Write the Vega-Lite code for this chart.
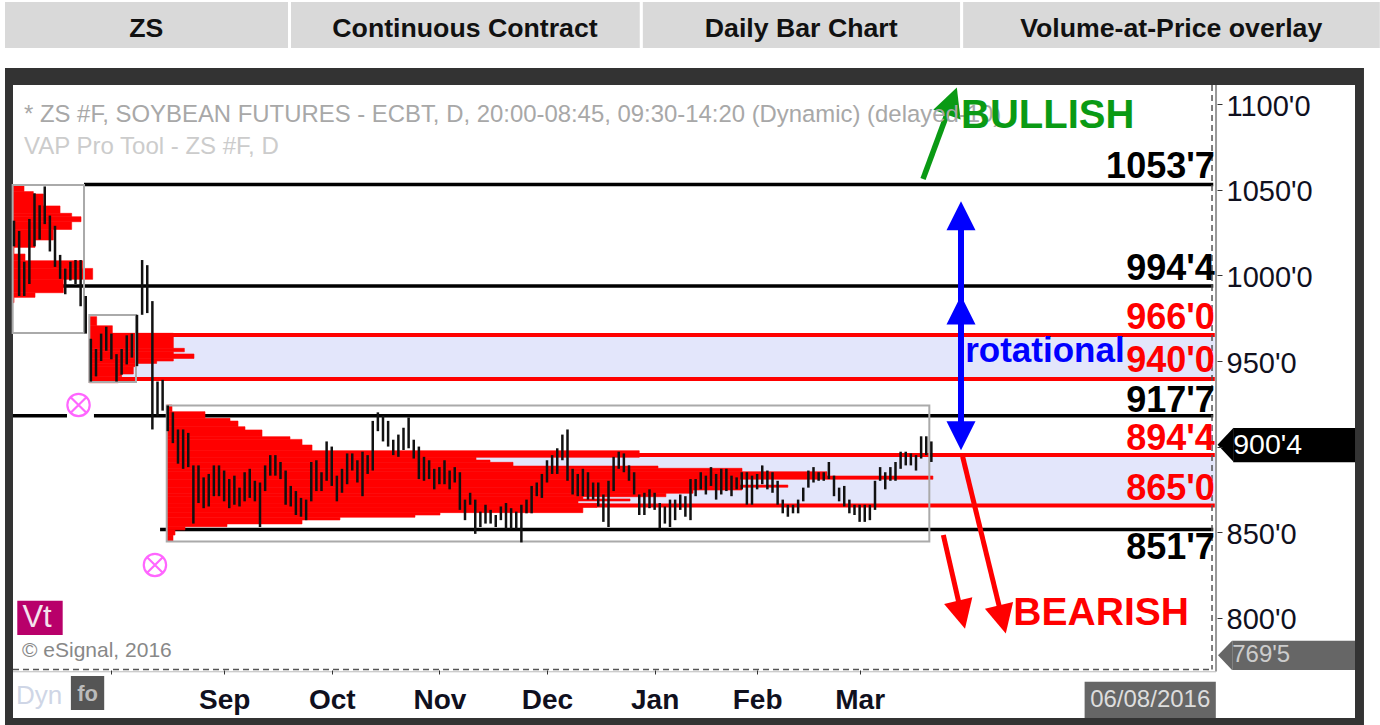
{
"$schema":"https://vega.github.io/schema/vega-lite/v6.json",
"width":1380,"height":725,"padding":0,"autosize":{"type":"none"},"background":"#ffffff",
"config":{"view":{"stroke":null},"text":{"font":"Liberation Sans"}},
"datasets":{
"bars":[
{"bar":0,"high":1032,"low":1017},{"bar":1,"high":1026,"low":988},{"bar":2,"high":1008,"low":988},{"bar":3,"high":1033,"low":995},{"bar":4,"high":1048,"low":1017},{"bar":5,"high":1041,"low":1021},{"bar":6,"high":1052,"low":1030},{"bar":7,"high":1035,"low":1014},{"bar":8,"high":1029,"low":1005},{"bar":9,"high":1012,"low":998},
{"bar":10,"high":1004,"low":989},{"bar":11,"high":1008,"low":997},{"bar":12,"high":1009,"low":995},{"bar":13,"high":1009,"low":982},{"bar":14,"high":988,"low":966},{"bar":15,"high":963,"low":938},{"bar":16,"high":957,"low":941},{"bar":17,"high":966,"low":950},{"bar":18,"high":970,"low":956},{"bar":19,"high":966,"low":951},
{"bar":20,"high":954,"low":938},{"bar":21,"high":957,"low":942},{"bar":22,"high":965,"low":948},{"bar":23,"high":966,"low":952},{"bar":24,"high":977,"low":947},{"bar":25,"high":1009,"low":977},{"bar":26,"high":1006,"low":978},{"bar":27,"high":985,"low":910},{"bar":28,"high":938,"low":918},{"bar":29,"high":939,"low":921},
{"bar":30,"high":924,"low":909},{"bar":31,"high":920,"low":902},{"bar":32,"high":910,"low":890},{"bar":33,"high":910,"low":887},{"bar":34,"high":908,"low":888},{"bar":35,"high":889,"low":855},{"bar":36,"high":889,"low":867},{"bar":37,"high":882,"low":864},{"bar":38,"high":884,"low":865},{"bar":39,"high":889,"low":871},
{"bar":40,"high":889,"low":871},{"bar":41,"high":886,"low":868},{"bar":42,"high":881,"low":864},{"bar":43,"high":883,"low":866},{"bar":44,"high":876,"low":865},{"bar":45,"high":885,"low":868},{"bar":46,"high":887,"low":870},{"bar":47,"high":880,"low":868},{"bar":48,"high":879,"low":853},{"bar":49,"high":889,"low":874},
{"bar":50,"high":895,"low":883},{"bar":51,"high":895,"low":883},{"bar":52,"high":891,"low":881},{"bar":53,"high":886,"low":866},{"bar":54,"high":877,"low":865},{"bar":55,"high":874,"low":860},{"bar":56,"high":870,"low":859},{"bar":57,"high":869,"low":857},{"bar":58,"high":891,"low":868},{"bar":59,"high":892,"low":874},
{"bar":60,"high":885,"low":874},{"bar":61,"high":903,"low":880},{"bar":62,"high":900,"low":877},{"bar":63,"high":883,"low":868},{"bar":64,"high":887,"low":873},{"bar":65,"high":896,"low":878},{"bar":66,"high":896,"low":886},{"bar":67,"high":892,"low":879},{"bar":68,"high":897,"low":871},{"bar":69,"high":895,"low":884},
{"bar":70,"high":915,"low":886},{"bar":71,"high":920,"low":909},{"bar":72,"high":918,"low":903},{"bar":73,"high":915,"low":900},{"bar":74,"high":904,"low":895},{"bar":75,"high":907,"low":894},{"bar":76,"high":911,"low":898},{"bar":77,"high":917,"low":899},{"bar":78,"high":904,"low":893},{"bar":79,"high":900,"low":881},
{"bar":80,"high":894,"low":880},{"bar":81,"high":892,"low":881},{"bar":82,"high":887,"low":875},{"bar":83,"high":888,"low":878},{"bar":84,"high":892,"low":878},{"bar":85,"high":886,"low":875},{"bar":86,"high":888,"low":879},{"bar":87,"high":885,"low":863},{"bar":88,"high":869,"low":857},{"bar":89,"high":873,"low":866},
{"bar":90,"high":869,"low":849},{"bar":91,"high":862,"low":853},{"bar":92,"high":866,"low":855},{"bar":93,"high":863,"low":855},{"bar":94,"high":860,"low":853},{"bar":95,"high":865,"low":857},{"bar":96,"high":867,"low":852},{"bar":97,"high":864,"low":852},{"bar":98,"high":862,"low":852},{"bar":99,"high":866,"low":844},
{"bar":100,"high":869,"low":861},{"bar":101,"high":877,"low":861},{"bar":102,"high":879,"low":871},{"bar":103,"high":884,"low":870},{"bar":104,"high":892,"low":879},{"bar":105,"high":895,"low":884},{"bar":106,"high":899,"low":884},{"bar":107,"high":907,"low":892},{"bar":108,"high":910,"low":880},{"bar":109,"high":887,"low":872},
{"bar":110,"high":884,"low":871},{"bar":111,"high":887,"low":871},{"bar":112,"high":885,"low":869},{"bar":113,"high":879,"low":869},{"bar":114,"high":879,"low":865},{"bar":115,"high":872,"low":856},{"bar":116,"high":880,"low":853},{"bar":117,"high":894,"low":874},{"bar":118,"high":897,"low":887},{"bar":119,"high":896,"low":885},
{"bar":120,"high":889,"low":880},{"bar":121,"high":885,"low":872},{"bar":122,"high":872,"low":860},{"bar":123,"high":873,"low":860},{"bar":124,"high":875,"low":864},{"bar":125,"high":873,"low":863},{"bar":126,"high":867,"low":852},{"bar":127,"high":865,"low":855},{"bar":128,"high":869,"low":853},{"bar":129,"high":869,"low":857},
{"bar":130,"high":872,"low":863},{"bar":131,"high":871,"low":859},{"bar":132,"high":881,"low":857},{"bar":133,"high":881,"low":871},{"bar":134,"high":885,"low":875},{"bar":135,"high":883,"low":872},{"bar":136,"high":888,"low":877},{"bar":137,"high":884,"low":869},{"bar":138,"high":887,"low":872},{"bar":139,"high":887,"low":874},
{"bar":140,"high":883,"low":871},{"bar":141,"high":882,"low":875},{"bar":142,"high":885,"low":875},{"bar":143,"high":885,"low":866},{"bar":144,"high":883,"low":866},{"bar":145,"high":884,"low":875},{"bar":146,"high":889,"low":878},{"bar":147,"high":886,"low":875},{"bar":148,"high":885,"low":873},{"bar":149,"high":880,"low":866},
{"bar":150,"high":869,"low":861},{"bar":151,"high":866,"low":859},{"bar":152,"high":866,"low":861},{"bar":153,"high":869,"low":861},{"bar":154,"high":876,"low":868},{"bar":155,"high":886,"low":876},{"bar":156,"high":888,"low":879},{"bar":157,"high":885,"low":880},{"bar":158,"high":885,"low":880},{"bar":159,"high":891,"low":881},
{"bar":160,"high":883,"low":871},{"bar":161,"high":876,"low":868},{"bar":162,"high":877,"low":865},{"bar":163,"high":869,"low":861},{"bar":164,"high":866,"low":860},{"bar":165,"high":866,"low":856},{"bar":166,"high":866,"low":856},{"bar":167,"high":866,"low":857},{"bar":168,"high":880,"low":863},{"bar":169,"high":888,"low":880},
{"bar":170,"high":885,"low":875},{"bar":171,"high":888,"low":880},{"bar":172,"high":891,"low":880},{"bar":173,"high":897,"low":887},{"bar":174,"high":897,"low":889},{"bar":175,"high":896,"low":889},{"bar":176,"high":895,"low":886},{"bar":177,"high":906,"low":893},{"bar":178,"high":906,"low":895},{"bar":179,"high":903,"low":891}
],
"profile":[
{"bar":-0.26,"bar2":1.95,"high":1052.8,"low":1049},{"bar":-0.26,"bar2":3.77,"high":1049,"low":1047.6},{"bar":-0.26,"bar2":5.72,"high":1047.6,"low":1040.6},{"bar":-0.26,"bar2":8.98,"high":1040.6,"low":1036.3},{"bar":-0.26,"bar2":11.25,"high":1036.3,"low":1034.3},{"bar":-0.26,"bar2":13.07,"high":1034.3,"low":1031.4},{"bar":-0.26,"bar2":11.25,"high":1031.4,"low":1026.9},{"bar":-0.26,"bar2":7.67,"high":1026.9,"low":1020.7},{"bar":-0.26,"bar2":4.1,"high":1020.7,"low":1016.4},{"bar":-0.26,"bar2":0,"high":1016.4,"low":1012.5},{"bar":-0.26,"bar2":2.15,"high":1012.5,"low":1008.6},{"bar":-0.26,"bar2":13.4,"high":1008.6,"low":1004.1},{"bar":-0.26,"bar2":15.35,"high":1004.1,"low":997.7},{"bar":-0.26,"bar2":9.62,"high":997.7,"low":989.9},{"bar":-0.26,"bar2":4.1,"high":989.9,"low":987.2},{"bar":-0.26,"bar2":0,"high":987.2,"low":984.1},
{"bar":14.7,"bar2":16.13,"high":975.9,"low":970.6},{"bar":14.7,"bar2":19.19,"high":970.6,"low":966.2},{"bar":14.7,"bar2":31.09,"high":966.2,"low":957.4},{"bar":14.7,"bar2":33.24,"high":957.4,"low":955.4},{"bar":14.7,"bar2":31.09,"high":955.4,"low":954.1},{"bar":14.7,"bar2":35.12,"high":954.1,"low":951.5},{"bar":14.7,"bar2":31.09,"high":951.5,"low":950},{"bar":14.7,"bar2":27.84,"high":950,"low":948.6},{"bar":14.7,"bar2":23.94,"high":948.6,"low":946.7},{"bar":14.7,"bar2":23.28,"high":946.7,"low":942.4},{"bar":14.7,"bar2":21,"high":942.4,"low":940.8},{"bar":14.7,"bar2":20.35,"high":940.8,"low":937.3},
{"bar":29.8,"bar2":30.83,"high":924.3,"low":920.4},{"bar":29.8,"bar2":37.27,"high":920.4,"low":916.5},{"bar":29.8,"bar2":42.15,"high":916.5,"low":914.9},{"bar":29.8,"bar2":43.71,"high":914.9,"low":911.6},{"bar":29.8,"bar2":45.07,"high":911.6,"low":909.7},{"bar":29.8,"bar2":48.39,"high":909.7,"low":905.8},{"bar":29.8,"bar2":53.85,"high":905.8,"low":904.2},{"bar":29.8,"bar2":56.2,"high":904.2,"low":900.9},{"bar":29.8,"bar2":58.15,"high":900.9,"low":897.6},{"bar":29.8,"bar2":122,"high":897.6,"low":893.7},{"bar":29.8,"bar2":90.15,"high":893.7,"low":892.1},{"bar":29.8,"bar2":92.88,"high":892.1,"low":890.8},{"bar":29.8,"bar2":97.37,"high":890.8,"low":888.6},{"bar":29.8,"bar2":125.66,"high":888.6,"low":887.3},{"bar":29.8,"bar2":142.05,"high":887.3,"low":885.3},{"bar":29.8,"bar2":158.63,"high":885.3,"low":882.8},{"bar":29.8,"bar2":179.3,"high":882.8,"low":880.9},{"bar":29.8,"bar2":141.66,"high":880.9,"low":877.5},{"bar":29.8,"bar2":151,"high":877.5,"low":876.2},{"bar":29.8,"bar2":142.05,"high":876.2,"low":874.6},{"bar":29.8,"bar2":132.5,"high":874.6,"low":872.7},{"bar":29.8,"bar2":127.2,"high":872.7,"low":870.7},{"bar":29.8,"bar2":111,"high":870.7,"low":869.4},{"bar":29.8,"bar2":120.2,"high":869.4,"low":868.2},{"bar":29.8,"bar2":110.05,"high":868.2,"low":866.8},{"bar":29.8,"bar2":113.76,"high":866.8,"low":864.5},{"bar":29.8,"bar2":111,"high":864.5,"low":861.4},{"bar":29.8,"bar2":83.12,"high":861.4,"low":860},{"bar":29.8,"bar2":78.24,"high":860,"low":858.7},{"bar":29.8,"bar2":63.6,"high":858.7,"low":857.1},{"bar":29.8,"bar2":56.2,"high":857.1,"low":854.8},{"bar":29.8,"bar2":41.56,"high":854.8,"low":853.2},{"bar":29.8,"bar2":33.37,"high":853.2,"low":851.3},{"bar":29.8,"bar2":31.41,"high":851.3,"low":848.3},{"bar":29.8,"bar2":31.02,"high":848.3,"low":844.8}
]
},
"encoding":{
"x":{"field":"bar","type":"quantitative","scale":{"domain":[-2.732,266.537],"range":[0,1380],"nice":false,"zero":false},
"axis":{"orient":"bottom","offset":-55,"title":null,"grid":false,"domain":false,"zindex":1,"values":[19,41,62,83,104,125,145,165],"labelExpr":"datum.value==41?'Sep':datum.value==62?'Oct':datum.value==83?'Nov':datum.value==104?'Dec':datum.value==125?'Jan':datum.value==145?'Feb':datum.value==165?'Mar':''","tickSize":4,"tickColor":"#333","labelPadding":12,"labelFontSize":28,"labelFontWeight":"bold","labelFont":"Liberation Sans","labelColor":"#10101e","labelOverlap":false,"labelFlush":false}},
"y":{"field":"high","type":"quantitative","scale":{"domain":[737.3,1160.95],"range":[725,0],"nice":false,"zero":false},
"axis":{"orient":"right","offset":-163,"title":null,"grid":false,"domain":false,"zindex":1,"values":[800,850,900,950,1000,1050,1100],"labelExpr":"datum.value==900?'':datum.value+\"'0\"","tickSize":5,"tickColor":"#333","labelPadding":4,"labelOffset":2,"labelFontSize":29,"labelFont":"Liberation Sans","labelColor":"#10101e","labelOverlap":false,"labelFlush":false}}
},
"layer":[
{"data":{"values":[{"bar":-1.756,"bar2":53.46,"high":1159.8,"low":1132.9},{"bar":54.05,"bar2":122.1,"high":1159.8,"low":1132.9},{"bar":122.7,"bar2":184.6,"high":1159.8,"low":1132.9},{"bar":185.2,"bar2":266.5,"high":1159.8,"low":1132.9}]},"mark":{"type":"rect","color":"#d9d9d9"},"encoding":{"x2":{"field":"bar2"},"y2":{"field":"low"}}},
{"data":{"values":[{"bar":25.8,"high":1144.2,"label":"ZS"},{"bar":88,"high":1144.2,"label":"Continuous Contract"},{"bar":153.6,"high":1144.2,"label":"Daily Bar Chart"},{"bar":225.8,"high":1144.2,"label":"Volume-at-Price overlay"}]},"mark":{"type":"text","fontWeight":"bold","fontSize":26.7,"color":"#111111","align":"center","baseline":"middle"},"encoding":{"text":{"field":"label"}}},
{"data":{"values":[{"bar":-1.756,"bar2":263.41,"high":1121.2,"low":737.3}]},"mark":{"type":"rect","color":"#333333"},"encoding":{"x2":{"field":"bar2"},"y2":{"field":"low"}}},
{"data":{"values":[{"bar":-0.195,"bar2":261.66,"high":1111.3,"low":741.4}]},"mark":{"type":"rect","color":"#ffffff"},"encoding":{"x2":{"field":"bar2"},"y2":{"field":"low"}}},
{"data":{"values":[{"bar":14.7,"bar2":234.3,"high":965.2,"low":939.5},{"bar":29.8,"bar2":234.3,"high":895.1,"low":865.6}]},"mark":{"type":"rect","color":"#e3e6fb"},"encoding":{"x2":{"field":"bar2"},"y2":{"field":"low"}}},
{"data":{"values":[{"bar":13.66,"bar2":234,"high":1053.1},{"bar":9.56,"bar2":234,"high":993.8},{"bar":-0.2,"bar2":10.34,"high":918},{"bar":15.6,"bar2":234,"high":918},{"bar":28.5,"bar2":234,"high":851.5}]},"mark":{"type":"rule","color":"#000000","strokeWidth":3.5},"encoding":{"x2":{"field":"bar2"}}},
{"data":{"name":"profile"},"mark":{"type":"rect","color":"#ff0000","stroke":"#ff0000","strokeWidth":0.6},"encoding":{"x2":{"field":"bar2"},"y2":{"field":"low"}}},
{"data":{"values":[{"bar":14.7,"bar2":234.3,"high":965.2},{"bar":14.7,"bar2":234.3,"high":939.5},{"bar":29.8,"bar2":234.3,"high":895.1},{"bar":29.8,"bar2":234.3,"high":865.6}]},"mark":{"type":"rule","color":"#ff0000","strokeWidth":4},"encoding":{"x2":{"field":"bar2"}}},
{"data":{"values":[{"bar":-0.26,"bar2":13.66,"high":1052.85,"low":966.4},{"bar":14.7,"bar2":23.8,"high":976.9,"low":937.7},{"bar":29.8,"bar2":178.6,"high":924,"low":844.5}]},"mark":{"type":"rect","fillOpacity":0,"stroke":"#aaaaaa","strokeWidth":2},"encoding":{"x2":{"field":"bar2"},"y2":{"field":"low"}}},
{"data":{"name":"bars"},"mark":{"type":"rule","color":"#111111","strokeWidth":2.5},"encoding":{"y2":{"field":"low"}}},
{"data":{"values":[{"bar":12.59,"high":924.3},{"bar":27.5,"high":830.8}]},"mark":{"type":"point","shape":"M-1,0A1,1 0 1,1 1,0A1,1 0 1,1 -1,0ZM-.7,-.7L.7,.7M-.7,.7L.7,-.7","size":500,"fill":"#ffffff","fillOpacity":1,"stroke":"#ff66ff","strokeWidth":2.2,"opacity":1}},
{"data":{"values":[{"bar":233.76,"high":1111.3,"low":769.7}]},"mark":{"type":"rule","color":"#555555","strokeWidth":1.5,"strokeDash":[6,4]},"encoding":{"y2":{"field":"low"}}},
{"data":{"values":[{"bar":-0.195,"bar2":233.76,"high":769.7}]},"mark":{"type":"rule","color":"#555555","strokeWidth":1.5,"strokeDash":[6,4]},"encoding":{"x2":{"field":"bar2"}}},
{"data":{"values":[{"bar":234.54,"high":1111.3,"low":768.6}]},"mark":{"type":"rule","color":"#999999","strokeWidth":2},"encoding":{"y2":{"field":"low"}}},
{"data":{"values":[{"bar":-0.195,"bar2":234.54,"high":768.4}]},"mark":{"type":"rule","color":"#bbbbbb","strokeWidth":1},"encoding":{"x2":{"field":"bar2"}}},
{"data":{"values":[{"bar":184.78,"high":1034.9,"low":906.3}]},"mark":{"type":"rule","color":"#0000ff","strokeWidth":6},"encoding":{"y2":{"field":"low"}}},
{"data":{"values":[{"bar":184.78,"high":1034.9},{"bar":184.78,"high":979.8}]},"mark":{"type":"point","shape":"M0,-1L1,1L-1,1Z","size":841,"filled":true,"opacity":1,"color":"#0000ff","strokeWidth":0}},
{"data":{"values":[{"bar":184.78,"high":906.3}]},"mark":{"type":"point","shape":"M0,1L1,-1L-1,-1Z","size":841,"filled":true,"opacity":1,"color":"#0000ff","strokeWidth":0}},
{"data":{"values":[{"bar":177.37,"bar2":183,"high":1056.35,"low":1101.93}]},"mark":{"type":"rule","color":"#0a9a14","strokeWidth":5.5},"encoding":{"x2":{"field":"bar2"},"y2":{"field":"low"}}},
{"data":{"values":[{"bar":183,"high":1101.93}]},"mark":{"type":"point","shape":"M0,-1L1,1L-1,1Z","size":841,"angle":20,"filled":true,"opacity":1,"color":"#0a9a14","strokeWidth":0}},
{"data":{"values":[{"bar":185.1,"bar2":192.86,"high":894.1,"low":799},{"bar":181.33,"bar2":184.9,"high":848.3,"low":801.8}]},"mark":{"type":"rule","color":"#ff0000","strokeWidth":5},"encoding":{"x2":{"field":"bar2"},"y2":{"field":"low"}}},
{"data":{"values":[{"bar":192.86,"high":799},{"bar":184.9,"high":801.8}]},"mark":{"type":"point","shape":"M0,-1L1,1L-1,1Z","size":841,"angle":166.5,"filled":true,"opacity":1,"color":"#ff0000","strokeWidth":0}},
{"data":{"values":[{"bar":1.95,"high":1093.8,"label":"* ZS #F, SOYBEAN FUTURES - ECBT, D, 20:00-08:45, 09:30-14:20 (Dynamic) (delayed-10)"}]},"mark":{"type":"text","fontSize":23.9,"color":"#a8a8a8","align":"left","baseline":"middle"},"encoding":{"text":{"field":"label"}}},
{"data":{"values":[{"bar":1.95,"high":1075.1,"label":"VAP Pro Tool - ZS #F, D"}]},"mark":{"type":"text","fontSize":24,"color":"#cccccc","align":"left","baseline":"middle"},"encoding":{"text":{"field":"label"}}},
{"data":{"values":[{"bar":184.8,"high":1093.2,"label":"BULLISH"}]},"mark":{"type":"text","fontSize":40,"fontWeight":"bold","color":"#0a9a14","align":"left","baseline":"middle"},"encoding":{"text":{"field":"label"}}},
{"data":{"values":[{"bar":195,"high":802.9,"label":"BEARISH"}]},"mark":{"type":"text","fontSize":39,"fontWeight":"bold","color":"#ff0000","align":"left","baseline":"middle"},"encoding":{"text":{"field":"label"}}},
{"data":{"values":[{"bar":185.6,"high":949.7,"label":"rotational"}]},"mark":{"type":"text","fontSize":35,"fontWeight":"bold","color":"#0000ff","align":"left","baseline":"alphabetic"},"encoding":{"text":{"field":"label"}}},
{"data":{"values":[{"bar":234.3,"high":1063.5,"label":"1053'7"},{"bar":234.3,"high":1004,"label":"994'4"},{"bar":234.3,"high":926.6,"label":"917'7"},{"bar":234.3,"high":841,"label":"851'7"}]},"mark":{"type":"text","fontSize":36,"fontWeight":"bold","color":"#000000","align":"right","baseline":"middle"},"encoding":{"text":{"field":"label"}}},
{"data":{"values":[{"bar":234.3,"high":975.4,"label":"966'0"},{"bar":234.3,"high":950.2,"label":"940'0"},{"bar":234.3,"high":904.6,"label":"894'4"},{"bar":234.3,"high":875.4,"label":"865'0"}]},"mark":{"type":"text","fontSize":36,"fontWeight":"bold","color":"#ff0000","align":"right","baseline":"middle"},"encoding":{"text":{"field":"label"}}},
{"data":{"values":[{"bar":237.9,"bar2":261.66,"high":910.8,"low":890.9}]},"mark":{"type":"rect","color":"#000000"},"encoding":{"x2":{"field":"bar2"},"y2":{"field":"low"}}},
{"data":{"values":[{"bar":236.4,"high":901}]},"mark":{"type":"point","shape":"M-.47,0L.47,-1L.47,1Z","size":1156,"filled":true,"opacity":1,"color":"#000000","strokeWidth":0}},
{"data":{"values":[{"bar":237.9,"high":901,"label":"900'4"}]},"mark":{"type":"text","fontSize":28.5,"color":"#ffffff","align":"left","baseline":"middle"},"encoding":{"text":{"field":"label"}}},
{"data":{"values":[{"bar":237.7,"bar2":261.66,"high":786.6,"low":769.4}]},"mark":{"type":"rect","color":"#666666"},"encoding":{"x2":{"field":"bar2"},"y2":{"field":"low"}}},
{"data":{"values":[{"bar":236.3,"high":778}]},"mark":{"type":"point","shape":"M-.476,0L.476,-1L.476,1Z","size":864,"filled":true,"opacity":1,"color":"#666666","strokeWidth":0}},
{"data":{"values":[{"bar":237.7,"high":778,"label":"769'5"}]},"mark":{"type":"text","fontSize":24,"color":"#cccccc","align":"left","baseline":"middle"},"encoding":{"text":{"field":"label"}}},
{"data":{"values":[{"bar":208.9,"bar2":234.5,"high":762.6,"low":741.4}]},"mark":{"type":"rect","color":"#666666"},"encoding":{"x2":{"field":"bar2"},"y2":{"field":"low"}}},
{"data":{"values":[{"bar":221.7,"high":752,"label":"06/08/2016"}]},"mark":{"type":"text","fontSize":24,"color":"#dddddd","align":"center","baseline":"middle"},"encoding":{"text":{"field":"label"}}},
{"data":{"values":[{"bar":0.64,"bar2":9.5,"high":809.9,"low":789.9}]},"mark":{"type":"rect","color":"#b8006a"},"encoding":{"x2":{"field":"bar2"},"y2":{"field":"low"}}},
{"data":{"values":[{"bar":4.5,"high":799.8,"label":"Vt"}]},"mark":{"type":"text","fontSize":31,"color":"#f4e4ee","align":"center","baseline":"middle"},"encoding":{"text":{"field":"label"}}},
{"data":{"values":[{"bar":1.56,"high":780.5,"label":"© eSignal, 2016"}]},"mark":{"type":"text","fontSize":21,"color":"#888888","align":"left","baseline":"middle"},"encoding":{"text":{"field":"label"}}},
{"data":{"values":[{"bar":0.4,"high":754.3,"label":"Dyn"}]},"mark":{"type":"text","fontSize":26,"color":"#cfd6e6","align":"left","baseline":"middle"},"encoding":{"text":{"field":"label"}}},
{"data":{"values":[{"bar":11.1,"bar2":17.6,"high":765.9,"low":746}]},"mark":{"type":"rect","color":"#555555"},"encoding":{"x2":{"field":"bar2"},"y2":{"field":"low"}}},
{"data":{"values":[{"bar":14.35,"high":755.4,"label":"fo"}]},"mark":{"type":"text","fontSize":22,"fontWeight":"bold","color":"#bbbbbb","align":"center","baseline":"middle"},"encoding":{"text":{"field":"label"}}}
]
}
